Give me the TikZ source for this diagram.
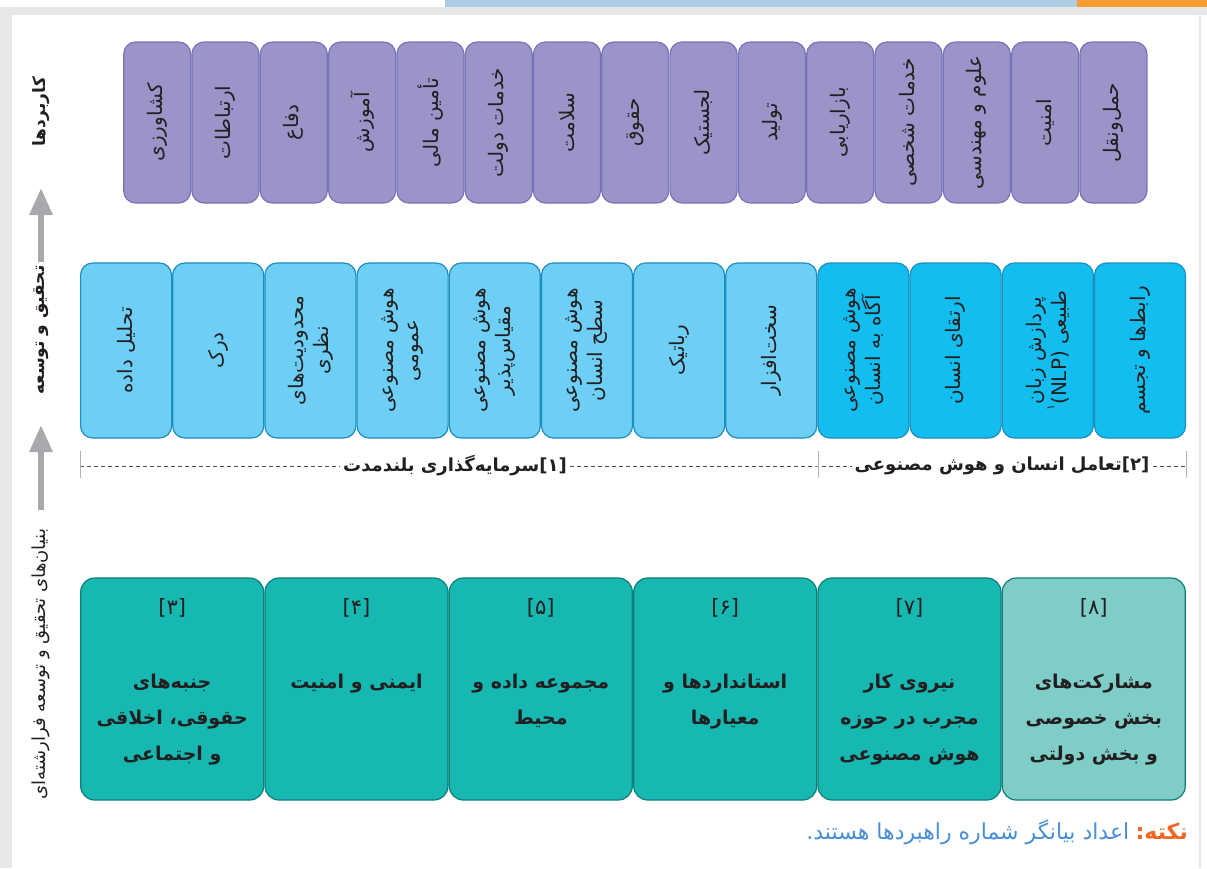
\documentclass[tikz,border=0pt]{standalone}
\usepackage{fontspec}
\setmainfont{DejaVu Sans}
\newfontfamily\fa[Script=Arabic]{DejaVu Sans}
\TeXXeTstate=1
\usepackage{tikz}
\usetikzlibrary{arrows.meta}
\definecolor{frame}{HTML}{E6E7E8}
\definecolor{topblue}{HTML}{AECBE3}
\definecolor{toporange}{HTML}{F99D31}
\definecolor{appfill}{HTML}{9B94C9}
\definecolor{appline}{HTML}{7A72B8}
\definecolor{rdfill}{HTML}{6DCFF6}
\definecolor{rdhot}{HTML}{12BEF0}
\definecolor{rdline}{HTML}{1E8DBF}
\definecolor{bfill}{HTML}{16B8B1}
\definecolor{blight}{HTML}{7FCDC7}
\definecolor{bline}{HTML}{0E7F77}
\definecolor{ink}{HTML}{231F20}
\definecolor{arrgray}{HTML}{A7A9AC}
\definecolor{noteor}{HTML}{F26522}
\definecolor{noteblue}{HTML}{4A8FD6}
\newcommand\rl[1]{\beginR#1\endR}
\newcommand\lr[1]{\beginL#1\endL}
\tikzset{app/.style={draw=appline, fill=appfill, line width=1.2pt, rounded corners=12pt, rotate=90, minimum width=161pt, minimum height=67pt, align=center, text=ink, font=\fa\fontsize{20}{22}\selectfont}}
\tikzset{rd/.style={draw=rdline, fill=rdfill, line width=1.2pt, rounded corners=12pt, rotate=90, minimum width=175pt, minimum height=91pt, align=center, text=ink, font=\fa\fontsize{20}{25}\selectfont}}
\tikzset{rdh/.style={rd, fill=rdhot}}
\tikzset{base/.style={draw=bline, fill=bfill, line width=1.2pt, rounded corners=14pt, minimum width=183pt, minimum height=222pt}}
\tikzset{basel/.style={base, fill=blight}}
\tikzset{num/.style={text=ink, font=\fa\fontsize{21}{21}\selectfont}}
\tikzset{btxt/.style={anchor=north, align=center, text=ink, font=\fa\bfseries\fontsize{19}{36}\selectfont}}
\tikzset{side/.style={rotate=90, inner sep=0pt, outer sep=0pt, text=ink}}
\tikzset{tag/.style={text=ink, inner sep=3pt, font=\fa\bfseries\fontsize{18}{18}\selectfont}}
\tikzset{garr/.style={draw=arrgray, line width=6pt, -{Triangle[width=22pt,length=27pt]}}}
\tikzset{dsh/.style={draw=black!70, line width=0.8pt, dash pattern=on 4pt off 3pt}}
\tikzset{tick/.style={draw=black!30, line width=1pt}}
\tikzset{note/.style={inner sep=0pt, font=\fa\fontsize{22}{22}\selectfont}}

\begin{document}
\begin{tikzpicture}[x=1pt, y=-1pt]
  \useasboundingbox (0,0) rectangle (1207,868);
  % frame
  \fill[topblue] (445,0) rectangle (1077,7);
  \fill[toporange] (1077,0) rectangle (1207,7);
  \fill[frame] (0,7) rectangle (1207,868);
  \fill[white] (12,15) rectangle (1207,868);
  \draw[frame, line width=1.5pt] (1200,15) -- (1200,868);

  % applications
  \node[app] (P1) at (157.2,122.5) {\rl{کشاورزی}};
  \node[app] (P2) at (225.5,122.5) {\rl{ارتباطات}};
  \node[app] (P3) at (293.8,122.5) {\rl{دفاع}};
  \node[app] (P4) at (362.1,122.5) {\rl{آموزش}};
  \node[app] (P5) at (430.4,122.5) {\rl{تأمین مالی}};
  \node[app] (P6) at (498.7,122.5) {\rl{خدمات دولت}};
  \node[app] (P7) at (567.0,122.5) {\rl{سلامت}};
  \node[app] (P8) at (635.3,122.5) {\rl{حقوق}};
  \node[app] (P9) at (703.6,122.5) {\rl{لجستیک}};
  \node[app] (P10) at (771.9,122.5) {\rl{تولید}};
  \node[app] (P11) at (840.2,122.5) {\rl{بازاریابی}};
  \node[app] (P12) at (908.5,122.5) {\rl{خدمات شخصی}};
  \node[app] (P13) at (976.8,122.5) {\rl{علوم و مهندسی}};
  \node[app] (P14) at (1045.1,122.5) {\rl{امنیت}};
  \node[app] (P15) at (1113.4,122.5) {\rl{حمل‌ونقل}};

  % research and development
  \node[rd] (R1) at (126.1,350.5) {\rl{تحلیل داده}};
  \node[rd] (R2) at (218.2,350.5) {\rl{درک}};
  \node[rd] (R3) at (310.4,350.5) {\rl{محدودیت‌های}\\\rl{نظری}};
  \node[rd] (R4) at (402.6,350.5) {\rl{هوش مصنوعی}\\\rl{عمومی}};
  \node[rd] (R5) at (494.8,350.5) {\rl{هوش مصنوعی}\\\rl{مقیاس‌پذیر}};
  \node[rd] (R6) at (587.0,350.5) {\rl{هوش مصنوعی}\\\rl{سطح انسان}};
  \node[rd] (R7) at (679.1,350.5) {\rl{رباتیک}};
  \node[rd] (R8) at (771.3,350.5) {\rl{سخت‌افزار}};
  \node[rdh] (R9) at (863.5,350.5) {\rl{هوش مصنوعی}\\\rl{آگاه به انسان}};
  \node[rdh] (R10) at (955.6,350.5) {\rl{ارتقای انسان}};
  \node[rdh] (R11) at (1047.8,350.5) {\rl{پردازش زبان}\\\rl{طبیعی \lr{(NLP)}\raisebox{1.1ex}{\fontsize{11}{11}\selectfont ۱}}};
  \node[rdh] (R12) at (1140.0,350.5) {\rl{رابط‌ها و تجسم}};

  % groups
  \coordinate (T0) at (80,466);
  \coordinate (T1) at (818,466);
  \coordinate (T2) at (1186,466);
  \node[tag] (G1) at (455,466) {\rl{\lr{[۱]}سرمایه‌گذاری بلندمدت}};
  \node[tag] (G2) at (1002,466) {\rl{\lr{[۲]}تعامل انسان و هوش مصنوعی}};
  \draw[dsh] (T0) -- (G1) -- (T1) -- (G2) -- (T2);
  \draw[tick] ([yshift=15pt]T0) -- ([yshift=-12pt]T0);
  \draw[tick] ([yshift=15pt]T1) -- ([yshift=-12pt]T1);
  \draw[tick] ([yshift=15pt]T2) -- ([yshift=-12pt]T2);

  % foundations
  \node[base] (B3) at (172.2,689) {};
  \node[base] (B4) at (356.5,689) {};
  \node[base] (B5) at (540.8,689) {};
  \node[base] (B6) at (725.2,689) {};
  \node[base] (B7) at (909.5,689) {};
  \node[basel] (B8) at (1093.8,689) {};
  \node[num] at ([yshift=-30pt]B3.north) {[۳]};
  \node[num] at ([yshift=-30pt]B4.north) {[۴]};
  \node[num] at ([yshift=-30pt]B5.north) {[۵]};
  \node[num] at ([yshift=-30pt]B6.north) {[۶]};
  \node[num] at ([yshift=-30pt]B7.north) {[۷]};
  \node[num] at ([yshift=-30pt]B8.north) {[۸]};
  \node[btxt] at ([yshift=-93pt]B3.north) {\rl{جنبه‌های}\\\rl{حقوقی، اخلاقی}\\\rl{و اجتماعی}};
  \node[btxt] at ([yshift=-93pt]B4.north) {\rl{ایمنی و امنیت}};
  \node[btxt] at ([yshift=-93pt]B5.north) {\rl{مجموعه داده و}\\\rl{محیط}};
  \node[btxt] at ([yshift=-93pt]B6.north) {\rl{استانداردها و}\\\rl{معیارها}};
  \node[btxt] at ([yshift=-93pt]B7.north) {\rl{نیروی کار}\\\rl{مجرب در حوزه}\\\rl{هوش مصنوعی}};
  \node[btxt] at ([yshift=-93pt]B8.north) {\rl{مشارکت‌های}\\\rl{بخش خصوصی}\\\rl{و بخش دولتی}};

  % side labels
  \node[side, minimum width=120pt, font=\fa\bfseries\fontsize{17}{17}\selectfont] (S1) at (41,112) {\rl{کاربردها}};
  \node[side, minimum width=136pt, font=\fa\bfseries\fontsize{17}{17}\selectfont] (S2) at (41,330) {\rl{تحقیق و توسعه}};
  \node[side, minimum width=290pt, font=\fa\fontsize{18}{18}\selectfont] (S3) at (41,664) {\rl{بنیان‌های تحقیق و توسعه فرارشته‌ای}};
  \draw[garr, shorten >=16pt] (S2) -- (S1);
  \draw[garr, shorten <=9pt, shorten >=27pt] (S3) -- (S2);

  % note
  \node[note, anchor=base east, text=noteor, font=\fa\bfseries\fontsize{22}{22}\selectfont] (N0) at (1188,839) {\rl{نکته:}};
  \node[note, anchor=base east, text=noteblue] (N1) at ([xshift=-6pt]N0.base west) {\rl{اعداد بیانگر شماره راهبردها هستند.}};
\end{tikzpicture}
\end{document}
